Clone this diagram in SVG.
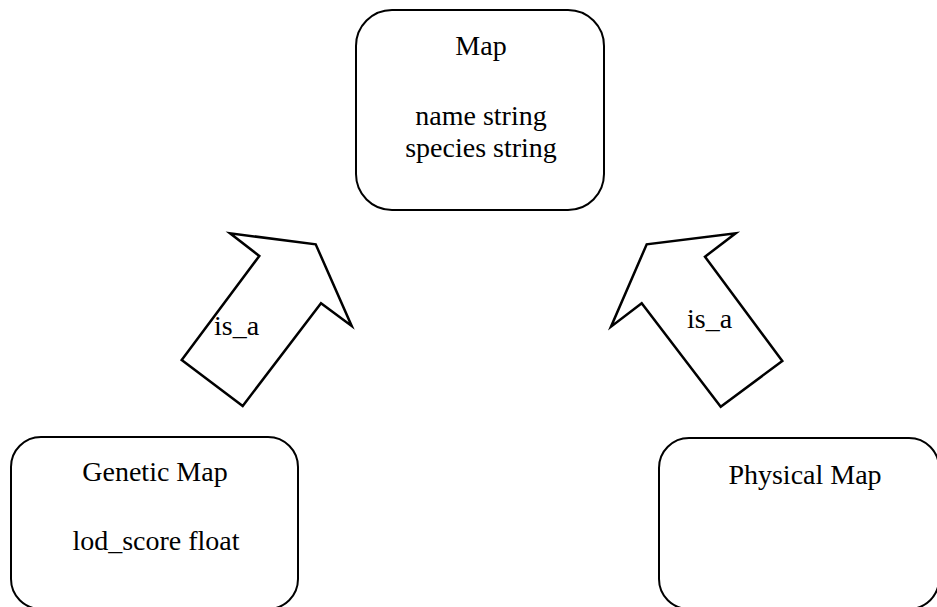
<svg xmlns="http://www.w3.org/2000/svg" width="937" height="607" viewBox="0 0 937 607">
<style>
.box{fill:#fff;stroke:#000;stroke-width:2}
.arrow{fill:#fff;stroke:#000;stroke-width:2.5;stroke-linejoin:miter}
text{font-family:"Liberation Serif","Times New Roman",serif;font-size:28px;fill:#000}
.c{text-anchor:middle}
</style>
<rect width="937" height="607" fill="#fff"/>
<g id="connectors">
<g id="isa-left">
<polygon class="arrow" points="181.7,360 242.7,406 321,303.3 351.7,326 315.7,244.3 230,233.3 259.3,256"/>
<text x="214" y="335">is_a</text>
</g>
<g id="isa-right">
<polygon class="arrow" points="782.3,361 720.7,406.7 641.7,303.3 611,326.7 646.7,244.3 735.7,233.3 705,256.7"/>
<text x="687" y="328">is_a</text>
</g>
</g>
<g id="node-map">
<rect class="box" x="356" y="10" width="248" height="200" rx="36" ry="36"/>
<text class="c" x="481" y="55">Map</text>
<text class="c" x="481" y="125">name string</text>
<text class="c" x="481" y="157">species string</text>
</g>
<g id="node-genetic">
<rect class="box" x="11" y="437" width="287" height="172" rx="30" ry="30"/>
<text class="c" x="155" y="481">Genetic Map</text>
<text class="c" x="156" y="550">lod_score float</text>
</g>
<g id="node-physical">
<rect class="box" x="659" y="438" width="280" height="171" rx="30" ry="30"/>
<text class="c" x="805" y="484">Physical Map</text>
</g>
</svg>
